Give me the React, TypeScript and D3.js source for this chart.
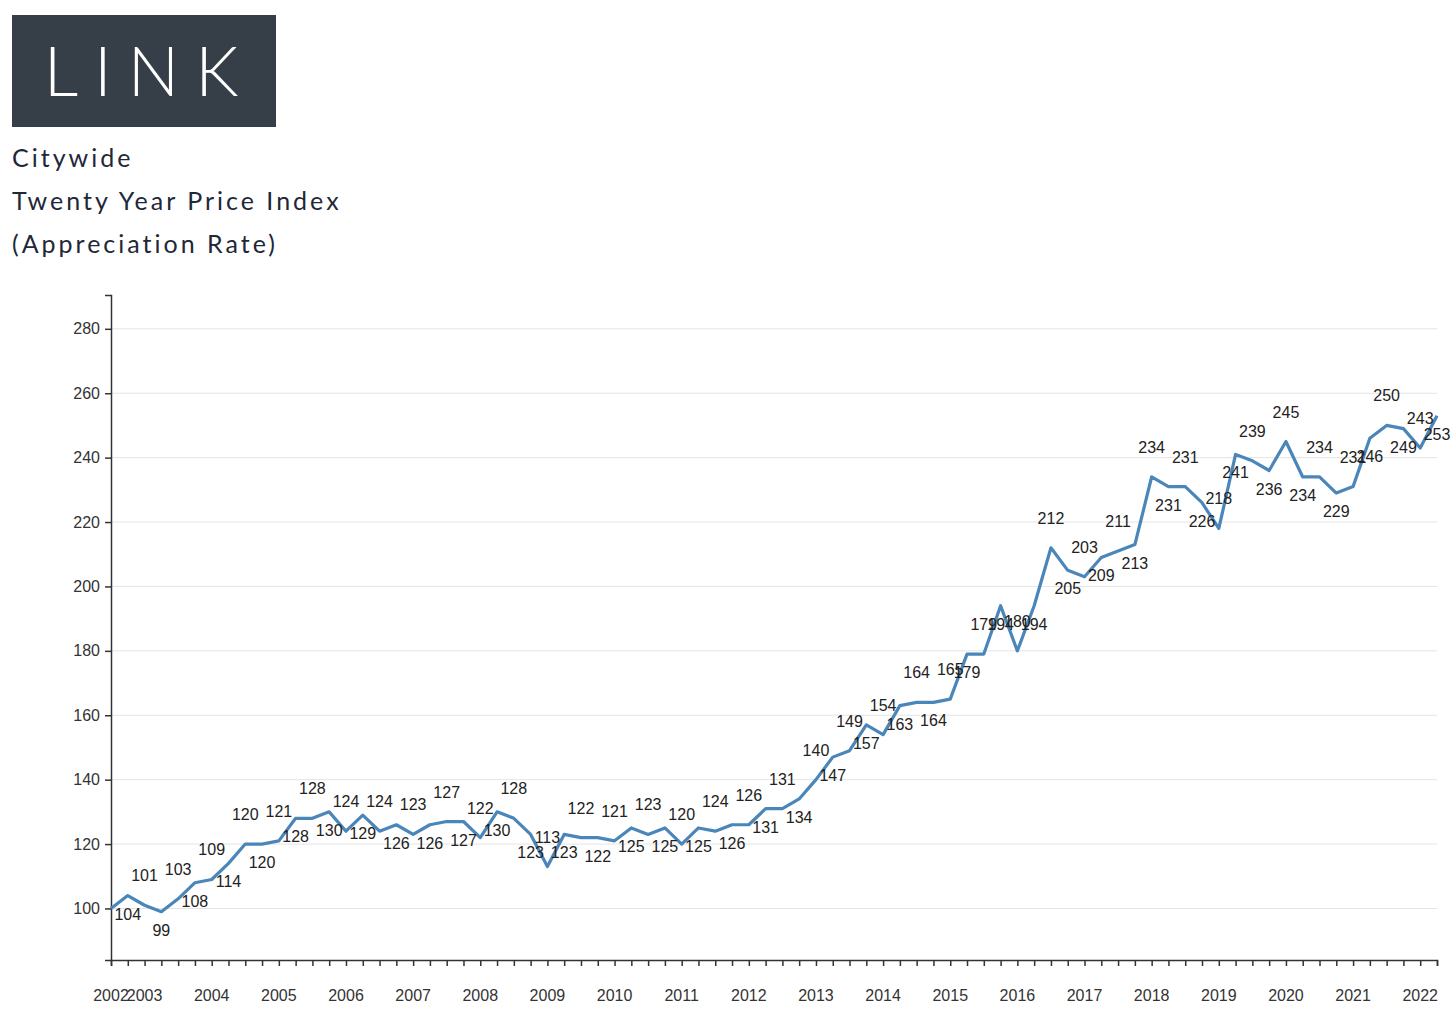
import React, { useRef, useEffect } from 'react';
import * as d3 from 'd3';

// Quarterly index values, 2002 Q3 .. 2022 Q2
const indexValues = [
  100, 104, 101, 99, 103, 108, 109, 114, 120, 120,
  121, 128, 128, 130, 124, 129, 124, 126, 123, 126,
  127, 127, 122, 130, 128, 123, 113, 123, 122, 122,
  121, 125, 123, 125, 120, 125, 124, 126, 126, 131,
  131, 134, 140, 147, 149, 157, 154, 163, 164, 164,
  165, 179, 179, 194, 180, 194, 212, 205, 203, 209,
  211, 213, 234, 231, 231, 226, 218, 241, 239, 236,
  245, 234, 234, 229, 231, 246, 250, 249, 243, 253,
];

const yearLabels = [
  '2002', '2003', '2004', '2005', '2006', '2007', '2008', '2009', '2010', '2011',
  '2012', '2013', '2014', '2015', '2016', '2017', '2018', '2019', '2020', '2021', '2022',
];
// quarter index where each year label sits
const yearLabelIndex = [0, 2, 6, 10, 14, 18, 22, 26, 30, 34, 38, 42, 46, 50, 54, 58, 62, 66, 70, 74, 78];

const yTicks = [100, 120, 140, 160, 180, 200, 220, 240, 260, 280];

const titleLines = ['Citywide', 'Twenty Year Price Index', '(Appreciation Rate)'];

const W = 1456;
const H = 1028;

const App: React.FC = () => {
  const svgRef = useRef<SVGSVGElement>(null);

  useEffect(() => {
    const svg = d3.select(svgRef.current);
    svg.selectAll('*').remove();

    const left = 111;
    const right = 1437;
    const top = 295;
    const bottom = 960;

    // Logo
    svg.append('rect')
      .attr('x', 12).attr('y', 15)
      .attr('width', 264).attr('height', 112)
      .attr('fill', '#363f48');

    svg.append('text')
      .attr('x', 149).attr('y', 96)
      .attr('text-anchor', 'middle')
      .style('font-family', 'Lato, "Open Sans", sans-serif')
      .style('font-weight', 300)
      .style('font-size', '68px')
      .style('letter-spacing', '16px')
      .style('fill', '#ffffff')
      .text('LINK');

    // Titles
    svg.selectAll('.title-line')
      .data(titleLines)
      .enter().append('text')
      .attr('class', 'title-line')
      .attr('x', 12)
      .attr('y', (_, i) => 167 + i * 43)
      .style('font-family', 'Lato, "Open Sans", sans-serif')
      .style('font-size', '25px')
      .style('letter-spacing', '3px')
      .style('fill', '#1e2838')
      .text(d => d);

    const xScale = d3.scaleLinear()
      .domain([0, indexValues.length - 1])
      .range([left, right]);

    const yScale = d3.scaleLinear()
      .domain([84, 290.5])
      .range([bottom, top]);

    const g = svg.append('g');

    // Grid lines
    g.selectAll('.grid')
      .data(yTicks)
      .enter().append('line')
      .attr('class', 'grid')
      .attr('x1', left).attr('x2', right)
      .attr('y1', d => yScale(d)).attr('y2', d => yScale(d))
      .attr('stroke', '#e4e4e4')
      .attr('stroke-width', 1);

    // Axes
    const yAxis = g.append('g')
      .attr('transform', `translate(${left},0)`)
      .call(d3.axisLeft(yScale).tickValues(yTicks).tickSize(6).tickPadding(5));

    const xAxis = g.append('g')
      .attr('transform', `translate(0,${bottom})`)
      .call(d3.axisBottom(xScale)
        .tickValues(d3.range(indexValues.length))
        .tickSize(6)
        .tickFormat(() => ''));

    [yAxis, xAxis].forEach(ax => {
      ax.selectAll('path, line').attr('stroke', '#333').attr('stroke-width', 1.5);
      ax.selectAll('text')
        .style('font-family', 'Arial, "Liberation Sans", sans-serif')
        .style('font-size', '16px')
        .style('fill', '#333');
    });

    // Year labels
    g.selectAll('.year-label')
      .data(yearLabels)
      .enter().append('text')
      .attr('class', 'year-label')
      .attr('x', (_, i) => xScale(yearLabelIndex[i]))
      .attr('y', 1001)
      .attr('text-anchor', 'middle')
      .style('font-family', 'Arial, "Liberation Sans", sans-serif')
      .style('font-size', '16px')
      .style('fill', '#333')
      .text(d => d);

    // Line
    const line = d3.line<number>()
      .x((_, i) => xScale(i))
      .y(d => yScale(d));

    g.append('path')
      .datum(indexValues)
      .attr('fill', 'none')
      .attr('stroke', '#4a86b9')
      .attr('stroke-width', 3.2)
      .attr('stroke-linejoin', 'round')
      .attr('d', line);

    // Value labels, alternating above / below
    g.selectAll('.value-label')
      .data(indexValues.slice(1))
      .enter().append('text')
      .attr('class', 'value-label')
      .attr('x', (_, i) => xScale(i + 1))
      .attr('y', (d, i) => yScale(d) + ((i + 1) % 2 === 1 ? 24 : -24))
      .attr('text-anchor', 'middle')
      .style('font-family', 'Arial, "Liberation Sans", sans-serif')
      .style('font-size', '16px')
      .style('fill', '#222')
      .text(d => d);
  }, []);

  return (
    <svg
      ref={svgRef}
      width={W}
      height={H}
      style={{ position: 'absolute', left: 0, top: 0, background: '#fff' }}
    />
  );
};

export default App;
